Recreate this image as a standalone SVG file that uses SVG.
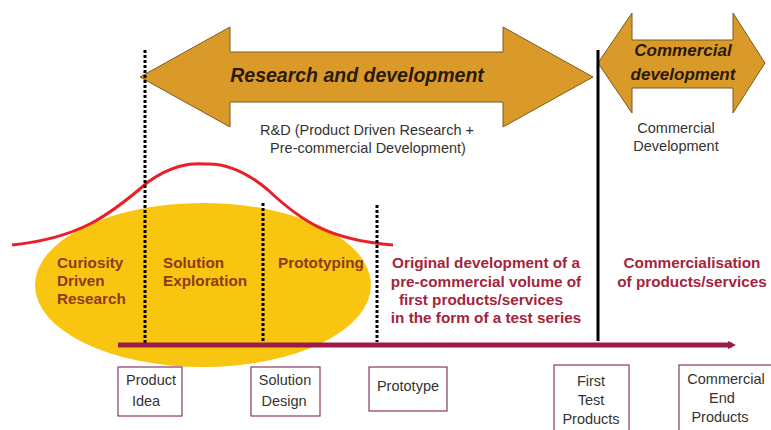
<svg xmlns="http://www.w3.org/2000/svg" width="771" height="430" viewBox="0 0 771 430">
<style>
.big{fill:#DA9A2A;stroke:#7a5a20;stroke-width:1}
.bt{font-family:"Liberation Sans",Arial,sans-serif;font-weight:bold;font-style:italic;fill:#2a1a05}
.gt{font-family:"Liberation Sans",Arial,sans-serif;font-size:14.5px;fill:#333;text-anchor:middle}
.ph{font-family:"Liberation Sans",Arial,sans-serif;font-size:15.3px;font-weight:bold;fill:#8E3A1E}
.rt{font-family:"Liberation Sans",Arial,sans-serif;font-size:15.3px;font-weight:bold;fill:#A3253B;text-anchor:middle}
.box{fill:#fff;stroke:#8B3A62;stroke-width:1.2}
.dash{stroke:#000;stroke-width:3;stroke-dasharray:3 2;fill:none}
</style>
<defs>
<marker id="ah" markerWidth="8" markerHeight="8" refX="4" refY="4" orient="auto" markerUnits="userSpaceOnUse"><path d="M0,0 L8,4 L0,8 Z" fill="#9B1B45"/></marker>
</defs>
<rect width="771" height="430" fill="#fff"/>
<g id="rd-arrow">
<path class="big" d="M140,77 L230,27 L230,52 L503,52 L503,27 L593,77 L503,127 L503,102 L230,102 L230,127 Z"/>
<text class="bt" x="357" y="82" font-size="19.5" text-anchor="middle">Research and development</text>
</g>
<g id="comm-arrow">
<path class="big" d="M598,63 L632,13 L632,40 L733,40 L733,13 L765,63 L733,113 L733,88 L632,88 L632,113 Z"/>
<text class="bt" x="683" y="56" font-size="17" text-anchor="middle">Commercial</text>
<text class="bt" x="683" y="80" font-size="17" text-anchor="middle">development</text>
</g>
<g id="rd-label">
<text class="gt" x="367" y="135" font-size="15.5">R&amp;D (Product Driven Research +</text>
<text class="gt" x="368" y="153" font-size="15.5">Pre-commercial Development)</text>
</g>
<g id="comm-label">
<text class="gt" x="676" y="133">Commercial</text>
<text class="gt" x="676" y="151">Development</text>
</g>
<g id="ellipse"><ellipse cx="203" cy="285" rx="168" ry="82" fill="#F8C511"/></g>
<g id="curve"><path d="M12,245 C80,238 110,215 148,182 C172,165 190,163 205,164 C222,163 242,168 268,190 C302,222 330,240 393,245" fill="none" stroke="#E8202A" stroke-width="3"/></g>
<g id="connectors">
<line x1="598" y1="50" x2="598" y2="341" stroke="#000" stroke-width="3"/>
<line class="dash" x1="145" y1="50" x2="145" y2="346"/>
<line class="dash" x1="263" y1="203" x2="263" y2="342"/>
<line class="dash" x1="377" y1="205" x2="377" y2="342"/>
<line x1="118" y1="345" x2="732" y2="345" stroke="#9B1B45" stroke-width="5" marker-end="url(#ah)"/>
</g>
<g id="phase-curiosity">
<text class="ph" x="57" y="268">Curiosity</text>
<text class="ph" x="57" y="286">Driven</text>
<text class="ph" x="57" y="304">Research</text>
</g>
<g id="phase-solution">
<text class="ph" x="163" y="268">Solution</text>
<text class="ph" x="163" y="286">Exploration</text>
</g>
<g id="phase-proto"><text class="ph" x="278" y="268">Prototyping</text></g>
<g id="phase-original">
<text class="rt" x="486" y="268">Original development of a</text>
<text class="rt" x="486" y="287">pre-commercial volume of</text>
<text class="rt" x="481" y="305">first products/services</text>
<text class="rt" x="486" y="323">in the form of a test series</text>
</g>
<g id="phase-comm">
<text class="rt" x="692" y="268">Commercialisation</text>
<text class="rt" x="692" y="287">of products/services</text>
</g>
<g id="box-idea">
<rect class="box" x="118" y="367" width="64" height="49"/>
<text class="gt" x="151" y="385">Product</text>
<text class="gt" x="146" y="406">Idea</text>
</g>
<g id="box-design">
<rect class="box" x="251" y="367" width="69" height="49"/>
<text class="gt" x="285" y="385">Solution</text>
<text class="gt" x="284" y="406">Design</text>
</g>
<g id="box-proto">
<rect class="box" x="369" y="367" width="78" height="44"/>
<text class="gt" x="408" y="391">Prototype</text>
</g>
<g id="box-first">
<rect class="box" x="554" y="365" width="75" height="70"/>
<text class="gt" x="591" y="386">First</text>
<text class="gt" x="591" y="405">Test</text>
<text class="gt" x="591" y="424">Products</text>
</g>
<g id="box-end">
<rect class="box" x="679" y="365" width="100" height="70"/>
<text class="gt" x="726" y="384">Commercial</text>
<text class="gt" x="722" y="403">End</text>
<text class="gt" x="720" y="422">Products</text>
</g>
</svg>
